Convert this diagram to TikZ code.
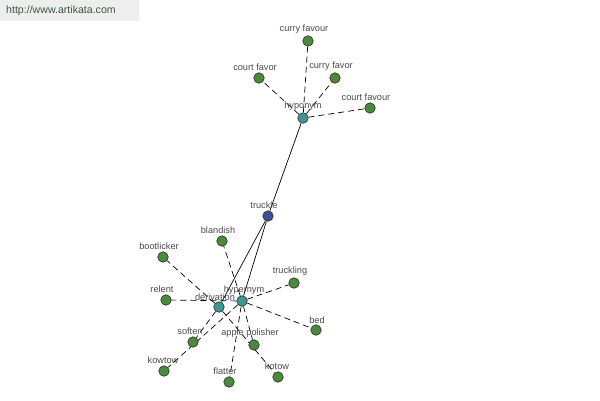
\documentclass[tikz,border=0pt]{standalone}
\usepackage{fontspec}
\setmainfont{Liberation Sans}
\usetikzlibrary{positioning}
\definecolor{leafGreen}{HTML}{4C883E}
\definecolor{relTeal}{HTML}{3E9696}
\definecolor{rootBlue}{HTML}{3F4C9A}
\definecolor{rimDark}{HTML}{23331F}
\definecolor{labelGray}{HTML}{4A4A4A}
\definecolor{siteGreen}{HTML}{3D5A3D}
\definecolor{bannerGray}{HTML}{EEEEEE}
\pgfdeclarelayer{edges}
\pgfsetlayers{edges,main}

\tikzset{
  wordnode/.style={circle,draw=rimDark,line width=0.6pt,inner sep=0pt,minimum size=10.5pt},
  leafnode/.style={wordnode,fill=leafGreen},
  relnode/.style={wordnode,fill=relTeal},
  rootnode/.style={wordnode,fill=rootBlue},
  lbl/.style={text=labelGray,font=\fontsize{9.2}{10}\selectfont,inner sep=0pt,xshift=-4pt},
  link/.style={draw=black,line width=0.7pt},
  weaklink/.style={link,dash pattern=on 6pt off 4pt}
}

\begin{document}
\begin{tikzpicture}[x=1pt,y=-1pt]
  \useasboundingbox (0,0) rectangle (600,400);

  % banner
  \fill[bannerGray] (0,0) rectangle (139,21);
  \node[text=siteGreen,font=\fontsize{10.6}{12}\selectfont,anchor=west,inner sep=0pt] (site) at (6,11) {http://www.artikata.com};

  % centre and relation nodes
  \node[rootnode,label={[lbl,label distance=2pt]above:truckle}] (truckle) at (268,216) {};
  \node[relnode,label={[lbl,xshift=4pt,label distance=2pt]above:hyponym}] (hyponym) at (303,118) {};
  \node[relnode,label={[lbl,xshift=6pt,label distance=1pt]above:hypernym}] (hypernym) at (242,301) {};
  \node[relnode,label={[lbl,label distance=1pt]above:derivation}] (derivation) at (219,307) {};

  % words
  \node[leafnode,label={[lbl,label distance=2pt]above:curry favour}] (curryfavour) at (308,41) {};
  \node[leafnode,label={[lbl,label distance=2pt]above:court favor}] (courtfavor) at (259,78) {};
  \node[leafnode,label={[lbl,label distance=2pt]above:curry favor}] (curryfavor) at (335,78) {};
  \node[leafnode,label={[lbl,label distance=2pt]above:court favour}] (courtfavour) at (370,108) {};
  \node[leafnode,label={[lbl,label distance=2pt]above:blandish}] (blandish) at (222,241) {};
  \node[leafnode,label={[lbl,label distance=2pt]above:bootlicker}] (bootlicker) at (163,257) {};
  \node[leafnode,label={[lbl,label distance=2pt]above:truckling}] (truckling) at (294,283) {};
  \node[leafnode,label={[lbl,label distance=2pt]above:relent}] (relent) at (166,300) {};
  \node[leafnode,label={[lbl,xshift=5pt,label distance=1pt]above:bed}] (bed) at (316,330) {};
  \node[leafnode,label={[lbl,xshift=1pt,label distance=2pt]above:soften}] (soften) at (193,342) {};
  \node[leafnode,label={[lbl,label distance=2pt]above:apple polisher}] (applepolisher) at (254,345) {};
  \node[leafnode,label={[lbl,xshift=3pt,label distance=2pt]above:kowtow}] (kowtow) at (164,371) {};
  \node[leafnode,label={[lbl,label distance=2pt]above:flatter}] (flatter) at (229,382) {};
  \node[leafnode,label={[lbl,xshift=3pt,label distance=2pt]above:kotow}] (kotow) at (278,377) {};

  \begin{pgfonlayer}{edges}
    \draw[link] (truckle) -- (hyponym);
    \draw[link] (truckle) -- (hypernym);
    \draw[link] (truckle) -- (derivation);
    \foreach \w in {curryfavour,courtfavor,curryfavor,courtfavour}
      \draw[weaklink] (hyponym) -- (\w);
    \foreach \w in {blandish,truckling,relent,bed,applepolisher,flatter,kowtow}
      \draw[weaklink] (hypernym) -- (\w);
    \foreach \w in {bootlicker,soften,kotow}
      \draw[weaklink] (derivation) -- (\w);
  \end{pgfonlayer}
\end{tikzpicture}
\end{document}
